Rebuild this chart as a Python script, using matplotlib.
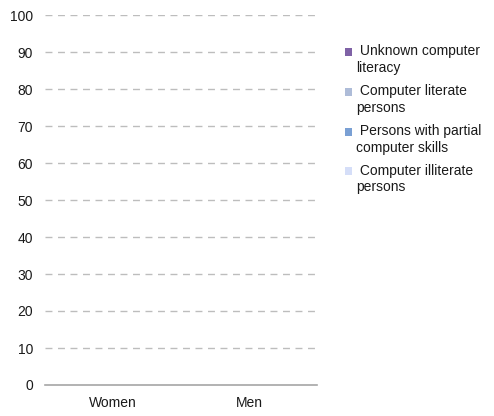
import matplotlib
matplotlib.use("Agg")
import matplotlib.pyplot as plt
from matplotlib.patches import Rectangle
import numpy as np

plt.rcParams['font.family'] = ['Liberation Sans', 'DejaVu Sans']

categories = ["Women", "Men"]
series_names = [" Unknown computer\nliteracy", " Computer literate\npersons",
                " Persons with partial\ncomputer skills", " Computer illiterate\npersons"]
series_colors = ["#7f62a6", "#aebcd8", "#7aa0d4", "#d5def8"]
# The reference chart shows no visible bars (all values empty / zero)
unknown = [0, 0]
literate = [0, 0]
partial = [0, 0]
illiterate = [0, 0]
series_values = [unknown, literate, partial, illiterate]
yticks = [0, 10, 20, 30, 40, 50, 60, 70, 80, 90, 100]

W, H = 494, 416
fig = plt.figure(figsize=(W/100, H/100), dpi=100)
ax = fig.add_axes([45/W, 1-385/H, (317-45)/W, (385-15)/H])

x = np.arange(len(categories))
bottom = np.zeros(len(categories))
for name, vals, col in zip(series_names, series_values, series_colors):
    ax.bar(x, vals, width=0.5, bottom=bottom, color=col, label=name.strip(), linewidth=0)
    bottom += np.array(vals, dtype=float)

ax.set_xlim(-0.5, 1.5)
ax.set_ylim(0, 100)
ax.set_yticks(yticks)
ax.set_yticklabels([str(t) for t in yticks], fontsize=10, color="#1a1a1a")
ax.set_xticks(x)
ax.set_xticklabels(categories, fontsize=10, color="#1a1a1a")
ax.tick_params(axis='y', length=0, pad=8.5)
ax.tick_params(axis='x', length=0, pad=8)
for t in yticks[1:]:
    ax.axhline(t, color="#bdbdbd", linestyle=(0, (5, 4)), linewidth=1.0, zorder=0)
for s in ["top", "right", "left"]:
    ax.spines[s].set_visible(False)
ax.spines["bottom"].set_color("#a6a6a6")
ax.spines["bottom"].set_linewidth(1.2)

# Legend (square aligned with first line of each wrapped label)
centers = [52, 92, 132, 171]
for name, col, cy in zip(series_names, series_colors, centers):
    fig.add_artist(Rectangle(((345)/W, 1-(cy+4)/H), 7/W, 8/H,
                             transform=fig.transFigure, facecolor=col,
                             edgecolor="none"))
    fig.text(356/W, 1-(cy-7.5)/H, name, fontsize=10, color="#1a1a1a",
             ha="left", va="top", linespacing=1.2)

fig.savefig("out.png", dpi=100)
